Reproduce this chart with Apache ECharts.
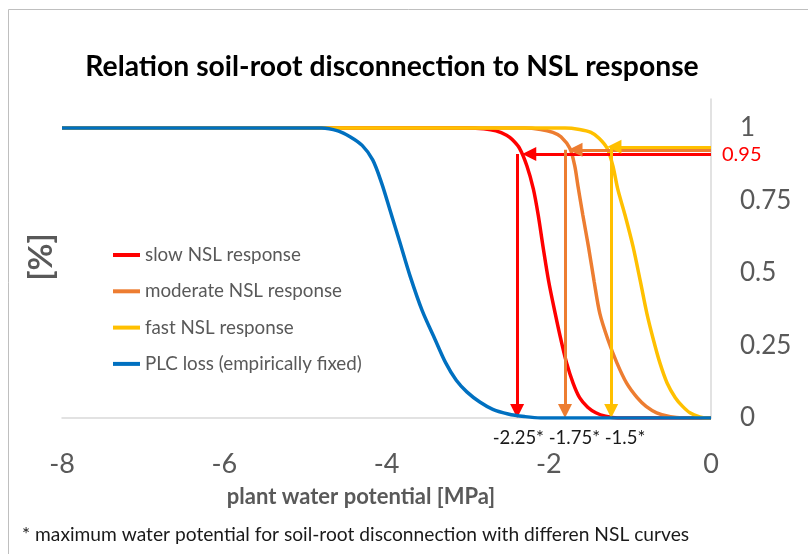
<!DOCTYPE html>
<html><head><meta charset="utf-8">
<script src="https://cdn.jsdelivr.net/npm/echarts@6/dist/echarts.min.js"></script>
<style>html,body{margin:0;padding:0;background:#fff}#c{width:808px;height:554px}</style>
</head><body><div id="c"></div>
<script>
const FONT = 'Lato, "Open Sans", sans-serif';
const titleText = 'Relation soil-root disconnection to NSL response';
const xAxisTitle = 'plant water potential [MPa]';
const yAxisTitle = '[%]';
const footnote = '* maximum water potential for soil-root disconnection with differen NSL curves';
const seriesNames = ['slow NSL response', 'moderate NSL response', 'fast NSL response', 'PLC loss (empirically fixed)'];
const colors = ['#FF0000', '#ED7D31', '#FFC000', '#0070C0'];

const slowX = [-8, -3.0, -2.8, -2.65, -2.52, -2.45, -2.36, -2.27, -2.19, -2.13, -2.07, -2.0, -1.92, -1.85, -1.78, -1.7, -1.62, -1.52, -1.42, -1.3, -1.15, 0];
const slowY = [1, 1, 0.997, 0.99, 0.975, 0.96, 0.93, 0.87, 0.79, 0.70, 0.59, 0.47, 0.36, 0.27, 0.19, 0.12, 0.07, 0.037, 0.018, 0.006, 0, 0];
const moderateX = [-8, -2.3, -2.1, -1.95, -1.85, -1.74, -1.68, -1.64, -1.58, -1.51, -1.44, -1.37, -1.27, -1.16, -1.04, -0.91, -0.8, -0.67, -0.5, -0.35, 0];
const moderateY = [1, 1, 0.995, 0.985, 0.97, 0.93, 0.87, 0.8, 0.70, 0.59, 0.47, 0.36, 0.27, 0.19, 0.12, 0.07, 0.04, 0.018, 0.004, 0, 0];
const fastX = [-8, -1.8, -1.62, -1.48, -1.38, -1.28, -1.21, -1.15, -1.06, -0.96, -0.87, -0.79, -0.71, -0.63, -0.54, -0.44, -0.35, -0.26, -0.14, -0.05, 0];
const fastY = [1, 1, 0.995, 0.985, 0.965, 0.93, 0.87, 0.79, 0.70, 0.59, 0.47, 0.36, 0.27, 0.19, 0.12, 0.07, 0.04, 0.018, 0.004, 0, 0];
const plcX = [-8, -4.8, -4.6, -4.45, -4.3, -4.17, -4.06, -3.96, -3.84, -3.71, -3.56, -3.4, -3.27, -3.14, -3.01, -2.85, -2.69, -2.5, -2.3, -2.1, 0];
const plcY = [1, 1, 0.99, 0.97, 0.94, 0.89, 0.81, 0.72, 0.61, 0.49, 0.37, 0.27, 0.19, 0.13, 0.09, 0.055, 0.03, 0.014, 0.005, 0, 0];

const xList = [slowX, moderateX, fastX, plcX];
const yList = [slowY, moderateY, fastY, plcY];

// disconnection arrows (slow, moderate, fast)
const arrowX = [-2.39, -1.80, -1.23];
const arrowY = [0.91, 0.925, 0.935];
const arrowTipX = [-2.33, -1.76, -1.28];
const thresholdLabel = '0.95';
const arrowLabels = ['-2.25*', '-1.75*', '-1.5*'];

const chart = echarts.init(document.getElementById('c'), null, {renderer: 'canvas'});

const series = seriesNames.map((name, i) => {
  const s = {
    name, type: 'line',
    data: xList[i].map((x, j) => [x, yList[i][j]]),
    smooth: 0.3,
    showSymbol: false, symbol: 'none',
    lineStyle: {color: colors[i], width: 3.5},
    itemStyle: {color: colors[i]},
    z: 2 + i,
    animation: false
  };
  if (i < 3) {
    s.markLine = {
      silent: true, animation: false,
      symbol: ['none', 'triangle'], symbolSize: 14,
      label: {show: false},
      lineStyle: {type: 'solid', width: 3, color: colors[i]},
      data: [
        [{coord: [0, arrowY[i]]}, {coord: [arrowTipX[i] + 0.09, arrowY[i]]}],
        [{coord: [arrowX[i], arrowY[i]]}, {coord: [arrowX[i], 0.024]}]
      ]
    };
  }
  if (i === 0) {
    s.markPoint = {
      silent: true, animation: false,
      symbol: 'circle', symbolSize: 0,
      label: {show: true, position: 'right', distance: 11, formatter: thresholdLabel,
        color: '#FF0000', fontSize: 20, fontFamily: FONT},
      data: [{coord: [0, arrowY[0]]}]
    };
  }
  return s;
});

chart.setOption({
  backgroundColor: '#fff',
  animation: false,
  textStyle: {fontFamily: FONT},
  title: {
    text: titleText, left: 387, top: 62, textAlign: 'center', textVerticalAlign: 'middle',
    textStyle: {fontFamily: FONT, fontWeight: 'bold', fontSize: 28.3, color: '#000'}
  },
  legend: {
    orient: 'vertical', left: 108, top: 240,
    icon: 'rect', itemWidth: 27, itemHeight: 4, itemGap: 16.3,
    data: seriesNames,
    textStyle: {fontFamily: FONT, fontSize: 18.8, color: '#595959', lineHeight: 20}
  },
  grid: {left: 62, right: 97, top: 99, bottom: 136, containLabel: false},
  xAxis: {
    type: 'value', min: -8, max: 0, interval: 2,
    axisLine: {show: true, lineStyle: {color: '#d9d9d9', width: 1.5}},
    axisTick: {show: false}, splitLine: {show: false},
    axisLabel: {fontSize: 27, color: '#595959', margin: 33, fontFamily: FONT}
  },
  yAxis: {
    type: 'value', position: 'right', min: 0, max: 1.1, interval: 0.25,
    axisLine: {show: true, lineStyle: {color: '#d9d9d9', width: 1.5}},
    axisTick: {show: false}, splitLine: {show: false},
    axisLabel: {fontSize: 26, color: '#595959', margin: 29, showMaxLabel: false, fontFamily: FONT}
  },
  graphic: [
    {type: 'rect', silent: true, shape: {x: 8.5, y: 9.5, width: 1000, height: 1000},
      style: {fill: 'none', stroke: '#bfbfbf', lineWidth: 1}},
    {type: 'text', silent: true, x: 41, y: 257, rotation: Math.PI / 2,
      style: {text: yAxisTitle, fontFamily: FONT, fontWeight: 'bold', fontSize: 33, fill: '#595959', align: 'center', verticalAlign: 'middle'}},
    {type: 'text', silent: true, x: 361, y: 497,
      style: {text: xAxisTitle, fontFamily: FONT, fontWeight: 'bold', fontSize: 22, fill: '#595959', align: 'center', verticalAlign: 'middle'}},
    {type: 'text', silent: true, x: 22, y: 535,
      style: {text: footnote, fontFamily: FONT, fontSize: 19.2, fill: '#1a1a1a', align: 'left', verticalAlign: 'middle'}},
    {type: 'text', silent: true, x: 569, y: 438,
      style: {text: arrowLabels.join(' '), fontFamily: FONT, fontSize: 18.5, fill: '#1a1a1a', align: 'center', verticalAlign: 'middle'}}
  ],
  series
});
</script>
</body></html>
